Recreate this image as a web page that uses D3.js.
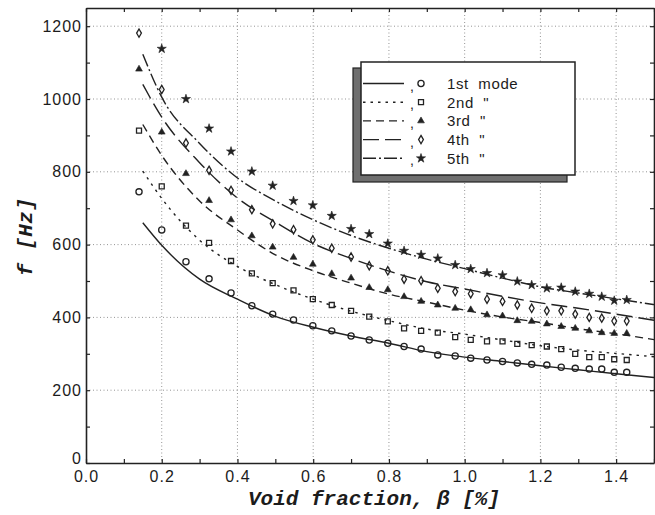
<!DOCTYPE html>
<html>
<head>
<meta charset="utf-8">
<script src="https://cdn.jsdelivr.net/npm/d3@7"></script>
<style>
  body { margin: 0; background: #fff; }
  text { fill: #1c1c1c; }
</style>
</head>
<body>
<div id="chart"></div>
<script>
// measured points (void fraction in %, frequency in Hz)
var beta = [0.14, 0.2, 0.264, 0.325, 0.383, 0.438, 0.493, 0.548, 0.599, 0.649, 0.70, 0.748, 0.797, 0.84,
    0.885, 0.929, 0.975, 1.016, 1.059, 1.10, 1.139, 1.177, 1.217, 1.255, 1.292, 1.329, 1.362, 1.395, 1.428];
var mode1 = [745, 640, 553, 506, 467, 432, 409, 393, 377, 363, 349, 338, 329, 320, 313, 297, 294, 288, 283,
    279, 275, 271, 269, 263, 260, 258, 258, 249, 249];
var mode2 = [913, 760, 652, 605, 555, 521, 494, 474, 450, 434, 418, 402, 389, 370, 363, 358, 346, 338, 334,
    334, 327, 324, 320, 313, 300, 291, 291, 285, 283];
var mode3 = [1082, 909, 795, 721, 668, 624, 593, 565, 546, 520, 508, 482, 476, 457, 444, 434, 425, 421, 407,
    404, 391, 389, 382, 375, 370, 363, 358, 356, 356];
var mode4 = [1181, 1026, 879, 804, 749, 696, 657, 641, 613, 590, 566, 542, 528, 505, 501, 480, 471, 465, 450,
    444, 434, 425, 418, 418, 409, 400, 398, 390, 390];
var mode5 = [null, 1138, 1000, 919, 856, 801, 762, 720, 708, 679, 643, 629, 603, 583, 572, 562, 544, 533, 522,
    516, 499, 489, 480, 482, 471, 465, 457, 446, 448];

// predicted curves
var betaFit = [0.15, 0.2, 0.3, 0.4, 0.5, 0.6, 0.7, 0.8, 0.9, 1.0, 1.1, 1.2, 1.3, 1.4, 1.5];
var fit1 = [660, 598, 505, 450, 403, 373, 349, 329, 306, 291, 279, 267, 256, 245, 235];
var fit2 = [802, 727, 612, 540, 490, 450, 417, 391, 368, 354, 338, 322, 310, 301, 292];
var fit3 = [930, 845, 720, 640, 572, 528, 494, 464, 442, 420, 401, 386, 369, 355, 339];
var fit4 = [1040, 950, 825, 728, 662, 603, 562, 527, 498, 478, 458, 440, 425, 409, 392];
var fit5 = [1123, 1005, 878, 783, 720, 668, 625, 590, 560, 534, 508, 484, 467, 451, 435];

var legendLabels = ["1st  mode", "2nd  \"", "3rd  \"", "4th  \"", "5th  \""];
var xTicks = [0.0, 0.2, 0.4, 0.6, 0.8, 1.0, 1.2, 1.4];
var yTicks = [0, 200, 400, 600, 800, 1000, 1200];

function init() {
    chart();
}

function chart() {
    var w = 655, h = 515;
    var m = { top: 8, right: 1, bottom: 52, left: 86 };
    var iw = w - m.left - m.right, ih = h - m.top - m.bottom;
    var ink = "#222";

    var svg = d3.select("#chart").append("svg")
        .attr("width", w).attr("height", h);
    var g = svg.append("g").attr("transform", "translate(" + m.left + "," + m.top + ")");

    var x = d3.scaleLinear().domain([0, 1.5]).range([0, iw]);
    var y = d3.scaleLinear().domain([0, 1250]).range([ih, 0]);

    // dotted grid
    g.append("g").selectAll("line").data(xTicks.slice(1)).enter().append("line")
        .attr("x1", function (d) { return x(d); }).attr("x2", function (d) { return x(d); })
        .attr("y1", 0).attr("y2", ih)
        .attr("stroke", "#888").attr("stroke-width", 0.9).attr("stroke-dasharray", "1,2.5");
    g.append("g").selectAll("line").data(yTicks.slice(1)).enter().append("line")
        .attr("y1", function (d) { return y(d); }).attr("y2", function (d) { return y(d); })
        .attr("x1", 0).attr("x2", iw)
        .attr("stroke", "#888").attr("stroke-width", 0.9).attr("stroke-dasharray", "1,2.5");

    // axes with inward ticks
    var minorX = d3.range(0, 1.51, 0.1), minorY = d3.range(0, 1251, 100);
    function styleAxis(sel) {
        sel.select(".domain").attr("stroke", ink).attr("stroke-width", 1.6);
        sel.selectAll(".tick line").attr("stroke", ink).attr("stroke-width", 1.2);
        sel.selectAll("text").attr("font-family", "Liberation Sans, Arial, sans-serif")
            .attr("font-size", 16).attr("letter-spacing", 1).attr("fill", "#1c1c1c");
    }
    g.append("g").attr("transform", "translate(0," + ih + ")")
        .call(d3.axisBottom(x).tickValues(minorX).tickSizeInner(-4).tickSizeOuter(0)
            .tickFormat(function (d) { return xTicks.some(function (t) { return Math.abs(t - d) < 1e-6; }) ? d3.format(".1f")(d) : ""; })
            .tickPadding(8))
        .call(styleAxis);
    var yAxis = g.append("g")
        .call(d3.axisLeft(y).tickValues(minorY).tickSizeInner(-4).tickSizeOuter(0)
            .tickFormat(function (d) { return d % 200 === 0 && d <= 1200 ? d : ""; })
            .tickPadding(4))
        .call(styleAxis);
    // the zero sits a little high, just above the 0.0
    yAxis.selectAll(".tick text").filter(function (d) { return d === 0; }).attr("dy", "0.05em");
    g.append("g")
        .call(d3.axisTop(x).tickValues(minorX).tickSizeInner(-4).tickSizeOuter(0).tickFormat(""))
        .call(styleAxis);
    g.append("g").attr("transform", "translate(" + iw + ",0)")
        .call(d3.axisRight(y).tickValues(minorY).tickSizeInner(-4).tickSizeOuter(0).tickFormat(""))
        .call(styleAxis);

    // fitted curves
    var fits = [fit1, fit2, fit3, fit4, fit5];
    var dashes = ["none", "2.5,5", "8,5", "16,6", "13,3,2,3"];
    var line = d3.line()
        .x(function (d) { return x(d[0]); })
        .y(function (d) { return y(d[1]); })
        .curve(d3.curveMonotoneX);
    fits.forEach(function (f, i) {
        g.append("path")
            .datum(betaFit.map(function (b, j) { return [b, f[j]]; }))
            .attr("d", line)
            .attr("fill", "none")
            .attr("stroke", ink)
            .attr("stroke-width", 1.4)
            .attr("stroke-dasharray", dashes[i]);
    });

    // markers
    var modes = [mode1, mode2, mode3, mode4, mode5];
    var marks = [
        { type: d3.symbolCircle, size: 30, fill: false },
        { type: d3.symbolSquare, size: 25, fill: false },
        { type: d3.symbolTriangle, size: 20, fill: true },
        { type: d3.symbolDiamond, size: 20, fill: false },
        { type: d3.symbolStar, size: 26, fill: true }
    ];
    function drawMark(sel, k) {
        var mk = marks[k];
        sel.append("path")
            .attr("d", d3.symbol().type(mk.type).size(mk.size)())
            .attr("transform", function (d) { return "translate(" + d.px + "," + d.py + ")"; })
            .attr("fill", mk.fill ? ink : "none")
            .attr("stroke", ink)
            .attr("stroke-width", mk.fill ? 0.6 : 1.3);
    }
    modes.forEach(function (vals, k) {
        var pts = [];
        vals.forEach(function (v, j) {
            if (v != null) pts.push({ px: x(beta[j]), py: y(v) });
        });
        var s = g.append("g").selectAll("g").data(pts).enter().append("g");
        drawMark(s, k);
    });

    // legend with shadow
    var lg = svg.append("g");
    lg.append("rect").attr("x", 353).attr("y", 68).attr("width", 214).attr("height", 114)
        .attr("fill", "#6f6f6f").attr("stroke", ink).attr("stroke-width", 1.2);
    lg.append("rect").attr("x", 361).attr("y", 62).attr("width", 214).attr("height", 113)
        .attr("fill", "#fff").attr("stroke", ink).attr("stroke-width", 1.5);
    legendLabels.forEach(function (lab, i) {
        var cy = 83.5 + i * 18.7;
        lg.append("line").attr("x1", 363).attr("x2", 404).attr("y1", cy).attr("y2", cy)
            .attr("stroke", ink).attr("stroke-width", 1.4).attr("stroke-dasharray", dashes[i]);
        lg.append("text").attr("x", 410).attr("y", cy + 7).text(",")
            .attr("font-family", "Liberation Sans, Arial, sans-serif").attr("font-size", 14);
        drawMark(lg.append("g").datum({ px: 421, py: cy }), i);
        lg.append("text").attr("x", 447).attr("y", cy + 5.5).text(lab)
            .attr("xml:space", "preserve").style("white-space", "pre")
            .attr("font-family", "Liberation Sans, Arial, sans-serif").attr("font-size", 15)
            .attr("letter-spacing", 0.6);
    });

    // axis titles
    svg.append("text")
        .attr("x", 248).attr("y", 505)
        .attr("font-family", "Liberation Mono, monospace").attr("font-style", "italic")
        .attr("font-weight", "bold").attr("font-size", 21)
        .text("Void fraction, \u03b2 [%]");
    svg.append("text")
        .attr("transform", "translate(32,237) rotate(-90)")
        .attr("text-anchor", "middle")
        .attr("font-family", "Liberation Mono, monospace").attr("font-style", "italic")
        .attr("font-weight", "bold").attr("font-size", 21)
        .attr("textLength", 78)
        .text("f [Hz]");
}

window.onload = init;
</script>
</body>
</html>
